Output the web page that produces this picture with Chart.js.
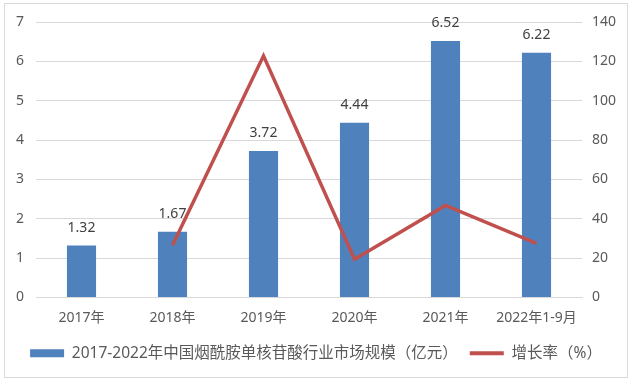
<!DOCTYPE html>
<html>
<head>
<meta charset="utf-8">
<script src="https://cdn.jsdelivr.net/npm/chart.js@4.4.1/dist/chart.umd.min.js"></script>
<style>
  html, body { margin: 0; padding: 0; background: #fff; }
  #wrap { width: 632px; height: 385px; }
</style>
</head>
<body>
<div id="wrap"><canvas id="c" width="632" height="385"></canvas></div>
<script>
const categories = ['2017年', '2018年', '2019年', '2020年', '2021年', '2022年1-9月'];
const marketSize = [1.32, 1.67, 3.72, 4.44, 6.52, 6.22];
const growthRate = [null, 26.5, 122.8, 19.4, 46.8, 27.5];
const leftTicks = [0, 1, 2, 3, 4, 5, 6, 7];
const rightTicks = [0, 20, 40, 60, 80, 100, 120, 140];

const FONT = '"Noto Sans", "Noto Sans CJK SC", sans-serif';
const GREY = '#595959';

const frame = {
  id: 'frame',
  beforeDraw(chart) {
    const ctx = chart.ctx;
    ctx.save();
    ctx.fillStyle = '#fff';
    ctx.fillRect(0, 0, chart.width, chart.height);
    ctx.strokeStyle = '#d9d9d9';
    ctx.lineWidth = 1;
    ctx.strokeRect(4.5, 3.5, 623, 374);
    ctx.restore();
  }
};

// value labels above the bars (bar dataset is index 1)
const barLabels = {
  id: 'barLabels',
  afterDatasetsDraw(chart) {
    const ctx = chart.ctx;
    const meta = chart.getDatasetMeta(1);
    ctx.save();
    ctx.font = '14px ' + FONT;
    ctx.fillStyle = '#404040';
    ctx.textAlign = 'center';
    ctx.textBaseline = 'middle';
    meta.data.forEach((bar, i) => {
      ctx.fillText(marketSize[i].toFixed(2), bar.x, bar.y - 18);
    });
    ctx.restore();
  }
};

new Chart(document.getElementById('c'), {
  data: {
    labels: categories,
    datasets: [
      {
        type: 'line',
        label: '增长率（%）',
        data: growthRate,
        yAxisID: 'y2',
        borderColor: '#C0504D',
        backgroundColor: '#C0504D',
        borderWidth: 3.5,
        pointRadius: 0,
        tension: 0,
        order: 0
      },
      {
        type: 'bar',
        label: '2017-2022年中国烟酰胺单核苷酸行业市场规模（亿元）',
        data: marketSize,
        yAxisID: 'y',
        backgroundColor: '#4F81BD',
        borderWidth: 0,
        categoryPercentage: 1,
        barPercentage: 0.32,
        order: 1
      }
    ]
  },
  options: {
    responsive: false,
    animation: false,
    layout: { padding: { top: 22, left: 0, right: 0, bottom: 14 } },
    plugins: {
      legend: {
        position: 'bottom',
        reverse: true,
        labels: {
          usePointStyle: true,
          pointStyleWidth: 34,
          boxHeight: 8,
          padding: 12,
          color: GREY,
          font: { family: FONT, size: 15.5 },
          generateLabels(chart) {
            return chart.data.datasets.map((ds, i) => ({
              text: ds.label,
              fillStyle: ds.backgroundColor,
              strokeStyle: ds.type === 'line' ? ds.borderColor : ds.backgroundColor,
              lineWidth: ds.type === 'line' ? 4 : 0,
              pointStyle: ds.type === 'line' ? 'line' : 'rect',
              fontColor: GREY,
              hidden: false,
              datasetIndex: i
            }));
          }
        }
      },
      tooltip: { enabled: false }
    },
    scales: {
      x: {
        grid: { display: false },
        border: { color: '#d9d9d9' },
        ticks: { color: GREY, font: { family: FONT, size: 14 }, padding: 4, maxRotation: 0 },
        afterFit(s) { s.height = 36; }
      },
      y: {
        position: 'left',
        min: 0, max: 7,
        afterBuildTicks(s) { s.ticks = leftTicks.map(v => ({ value: v })); },
        grid: { color: '#d9d9d9', drawTicks: false },
        border: { display: false },
        ticks: { color: GREY, font: { family: FONT, size: 14 }, padding: 12 },
        afterFit(s) { s.width = 36; }
      },
      y2: {
        position: 'right',
        min: 0, max: 140,
        afterBuildTicks(s) { s.ticks = rightTicks.map(v => ({ value: v })); },
        grid: { display: false, drawTicks: false },
        border: { display: false },
        ticks: { color: GREY, font: { family: FONT, size: 14 }, padding: 10 },
        afterFit(s) { s.width = 50; }
      }
    }
  },
  plugins: [frame, barLabels]
});
</script>
</body>
</html>
